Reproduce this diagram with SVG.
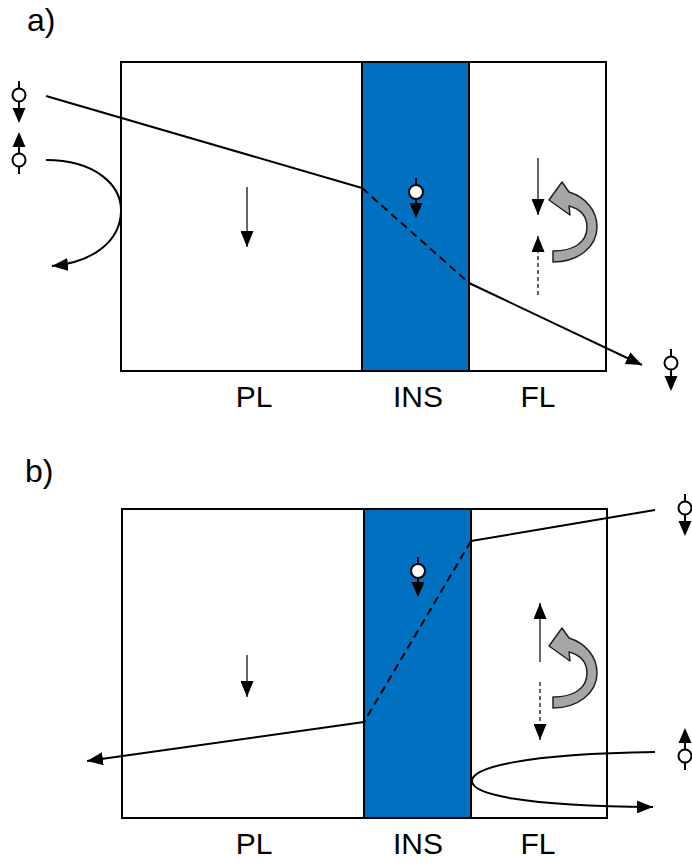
<svg xmlns="http://www.w3.org/2000/svg" width="692" height="865" viewBox="0 0 692 865">
<defs>
<style>
.box{fill:#fff;stroke:#000;stroke-width:2}
.ins{fill:#0070c0;stroke:#000;stroke-width:2}
.ln{fill:none;stroke:#000;stroke-width:2}
.dash{fill:none;stroke:#000;stroke-width:2;stroke-dasharray:8,5}
.thin{fill:none;stroke:#333;stroke-width:1.5}
.thind{fill:none;stroke:#333;stroke-width:1.5;stroke-dasharray:4,3}
.gray{fill:#a6a6a6;stroke:#222;stroke-width:1.5;stroke-linejoin:round}
.ion{fill:#fff;stroke:#000;stroke-width:2}
.lbl{font-family:"Liberation Sans",Arial,sans-serif;font-size:30px;fill:#000}
</style>
<marker id="ah" viewBox="0 0 16 13" refX="16" refY="6.5" markerWidth="16" markerHeight="13" markerUnits="userSpaceOnUse" orient="auto">
<path d="M0,0 L16,6.5 L0,13 Z" fill="#000"/>
</marker>
<g id="ionDown">
<line x1="0" y1="-14" x2="0" y2="14" stroke="#000" stroke-width="2"/>
<circle cx="0" cy="0" r="6.5" class="ion"/>
<path d="M-6.5,13 L6.5,13 L0,28 Z" fill="#000"/>
</g>
<g id="ionUp">
<line x1="0" y1="14" x2="0" y2="-14" stroke="#000" stroke-width="2"/>
<circle cx="0" cy="0" r="6.5" class="ion"/>
<path d="M-6.5,-13 L6.5,-13 L0,-28 Z" fill="#000"/>
</g>
<path id="curl" d="M553,262 C578,262 597,247 597,227 C597,210 585,197 569,192 L562,182 L549,200 L570,215 L569,206 C580,209 587,216 587,227 C587,243 573,251 553,251 Z"/>
</defs>

<text class="lbl" x="27" y="31" style="font-size:32px">a)</text>
<text class="lbl" x="25" y="482" style="font-size:32px">b)</text>

<g id="panelA">
<rect class="box" x="121" y="62" width="485" height="309"/>
<rect class="ins" x="362" y="62" width="107" height="309"/>
<text class="lbl" x="254" y="407" text-anchor="middle">PL</text>
<text class="lbl" x="418" y="407" text-anchor="middle">INS</text>
<text class="lbl" x="538" y="407" text-anchor="middle">FL</text>
</g>

<g id="panelB">
<rect class="box" x="122" y="509" width="485" height="309"/>
<rect class="ins" x="364" y="509" width="107" height="309"/>
<text class="lbl" x="254" y="854" text-anchor="middle">PL</text>
<text class="lbl" x="418" y="854" text-anchor="middle">INS</text>
<text class="lbl" x="538" y="854" text-anchor="middle">FL</text>
</g>

<g id="ionsA">
<use href="#ionDown" x="19" y="95"/>
<use href="#ionUp" x="19" y="160"/>
<g transform="translate(416,192)">
<line x1="0" y1="-14" x2="0" y2="12" stroke="#000" stroke-width="2"/>
<circle cx="0" cy="0" r="7" class="ion"/>
<path d="M-6.5,11 L6.5,11 L0,26 Z" fill="#000"/>
</g>
<use href="#ionDown" x="671" y="363"/>
</g>

<g id="ionsB">
<use href="#ionDown" x="685" y="508"/>
<use href="#ionUp" x="685" y="756"/>
<g transform="translate(418,571)">
<line x1="0" y1="-14" x2="0" y2="12" stroke="#000" stroke-width="2"/>
<circle cx="0" cy="0" r="7" class="ion"/>
<path d="M-6.5,11 L6.5,11 L0,26 Z" fill="#000"/>
</g>
</g>

<g id="connectors">
<line class="ln" x1="46" y1="96" x2="362" y2="188"/>
<line class="dash" x1="362" y1="188" x2="469" y2="283"/>
<line class="ln" x1="469" y1="283" x2="642" y2="365" marker-end="url(#ah)"/>
<path class="ln" d="M46,160 C95,160 122,185 121,212 C120,240 95,262 52,266" marker-end="url(#ah)"/>
<line class="thin" x1="247" y1="187" x2="247" y2="247" marker-end="url(#ah)"/>
<line class="thin" x1="538" y1="158" x2="538" y2="215" marker-end="url(#ah)"/>
<line class="thind" x1="538" y1="295" x2="538" y2="236" marker-end="url(#ah)"/>
<use href="#curl" class="gray"/>

<line class="ln" x1="655" y1="510" x2="471" y2="541"/>
<line class="dash" x1="471" y1="541" x2="364" y2="722"/>
<line class="ln" x1="364" y1="722" x2="87" y2="761" marker-end="url(#ah)"/>
<path class="ln" d="M655,752 C520,754 472,768 472,781 C472,794 520,806 653,807" marker-end="url(#ah)"/>
<line class="thin" x1="247" y1="655" x2="247" y2="697" marker-end="url(#ah)"/>
<line class="thin" x1="540" y1="662" x2="540" y2="603" marker-end="url(#ah)"/>
<line class="thind" x1="540" y1="682" x2="540" y2="740" marker-end="url(#ah)"/>
<use href="#curl" class="gray" transform="translate(0,446)"/>
</g>
</svg>
